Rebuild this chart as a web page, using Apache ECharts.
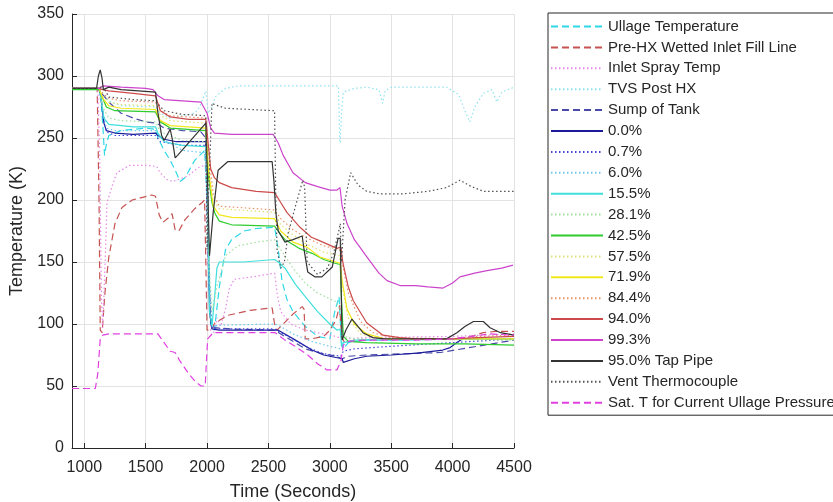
<!DOCTYPE html>
<html>
<head>
<meta charset="utf-8">
<script src="https://cdn.jsdelivr.net/npm/echarts@6/dist/echarts.min.js"></script>
<style>html,body{margin:0;padding:0;background:#fff;}#c{width:833px;height:502px;}</style>
</head>
<body>
<div id="c"></div>
<script>
// ---- data: [time (s), temperature (K)] ----
var seriesNames = ['Ullage Temperature','Pre-HX Wetted Inlet Fill Line','Inlet Spray Temp','TVS Post HX','Sump of Tank','0.0%','0.7%','6.0%','15.5%','28.1%','42.5%','57.5%','71.9%','84.4%','94.0%','99.3%','95.0% Tap Pipe','Vent Thermocouple','Sat. T for Current Ullage Pressure'];
var xTicks = [1000,1500,2000,2500,3000,3500,4000,4500];
var yTicks = [0,50,100,150,200,250,300,350];

var ullage = [[900,290],[1100,290],[1130,289],[1150,262],[1165,236],[1180,245],[1200,252],[1300,256],[1500,258],[1580,257],[1600,250],[1650,240],[1700,232],[1750,222],[1780,215],[1820,218],[1900,232],[1980,240],[2000,200],[2030,98],[2060,95],[2100,130],[2150,160],[2200,168],[2300,175],[2400,177],[2550,178],[2580,160],[2610,135],[2650,120],[2700,110],[2800,98],[2900,90],[3000,88],[3040,110],[3075,122],[3095,85],[3110,80],[3150,85],[3300,87],[3600,87],[4000,88],[4300,88],[4500,88]];
var preHX = [[900,290],[1105,290],[1120,200],[1130,95],[1145,93],[1170,127],[1200,154],[1250,181],[1307,194],[1390,200],[1550,204],[1580,203],[1610,188],[1640,182],[1690,186],[1715,189],[1740,176],[1770,175],[1820,184],[1900,193],[1960,198],[1980,200],[1990,150],[2000,95],[2030,95],[2065,101],[2170,107],[2350,111],[2530,113],[2550,100],[2570,95],[2620,100],[2700,108],[2775,114],[2790,112],[2800,88],[2850,88],[2950,90],[3000,95],[3050,103],[3080,115],[3095,90],[3120,85],[3200,87],[3600,88],[4000,88],[4150,90],[4250,93],[4350,94],[4500,94]];
var inletSpray = [[900,290],[1110,290],[1125,240],[1140,120],[1150,97],[1170,150],[1185,198],[1230,212],[1265,222],[1370,228],[1500,228],[1590,227],[1617,222],[1680,216],[1723,215],[1780,217],[1837,219],[1942,227],[1990,228],[2010,150],[2030,95],[2060,93],[2080,105],[2110,98],[2150,112],[2180,128],[2220,136],[2370,138],[2550,141],[2570,125],[2600,110],[2680,100],[2800,95],[2950,92],[3050,90],[3100,88],[3300,89],[4000,90],[4500,92]];
var tvs = [[900,290],[1120,290],[1150,286],[1200,280],[1300,276],[1580,275],[1620,270],[1700,266],[1900,270],[1940,275],[1990,288],[2010,270],[2040,275],[2065,283],[2150,290],[2250,292],[3070,292],[3080,250],[3085,246],[3095,270],[3110,287],[3200,290],[3300,291],[3400,289],[3430,278],[3450,288],[3500,291],[3950,291],[4050,285],[4100,272],[4140,263],[4180,275],[4250,286],[4320,289],[4360,279],[4400,287],[4500,291]];
var sump = [[900,290],[1120,290],[1150,285],[1210,278],[1300,270],[1400,266],[1500,263],[1590,262],[1650,258],[1800,256],[1950,255],[1990,250],[2010,150],[2030,100],[2060,97],[2200,96],[2550,95],[2600,92],[2700,86],[2800,80],[2900,77],[3050,74],[3100,72],[3150,74],[3300,75],[3600,76],[3900,77],[4200,82],[4500,87]];
var p00 = [[900,290],[1120,290],[1140,280],[1160,262],[1180,256],[1250,254],[1400,253],[1580,254],[1600,252],[1650,249],[1750,247],[1990,247],[2005,200],[2020,110],[2040,96],[2100,95],[2550,95],[2580,95],[2720,87],[2855,79],[2950,75],[3050,73],[3100,72],[3110,69],[3200,72],[3300,74],[3500,75],[3710,76.5],[3920,79],[3980,81],[4035,85],[4080,88],[4500,88]];
var p07 = [[900,290],[1120,290],[1150,270],[1180,255],[1250,252],[1580,252],[1620,247],[1800,244],[1990,244],[2010,150],[2040,97],[2100,96],[2550,96],[2600,93],[2700,88],[2800,82],[2950,76],[3090,74],[3110,78],[3200,80],[3500,82],[4000,85],[4500,88]];
var p60 = [[900,290],[1120,290],[1150,272],[1180,258],[1250,256],[1580,256],[1620,250],[1800,240],[1990,238],[2010,150],[2040,98],[2100,99],[2550,100],[2600,98],[2700,92],[2850,86],[3000,82],[3090,80],[3110,85],[3300,87],[4500,88]];
var p155 = [[900,290],[1120,290],[1140,280],[1160,266],[1200,261],[1400,259],[1580,259],[1600,254],[1650,247],[1800,244],[1990,243],[2005,200],[2020,110],[2040,98],[2060,120],[2080,145],[2100,150],[2300,150],[2550,152],[2580,150],[2635,145],[2720,132],[2800,122],[2900,110],[3000,100],[3060,95],[3085,96],[3095,82],[3110,85],[3200,87],[3600,88],[4500,88]];
var p281 = [[900,290],[1120,290],[1150,275],[1200,266],[1300,264],[1580,263],[1620,255],[1800,248],[1990,247],[2010,160],[2040,110],[2080,130],[2150,155],[2250,163],[2400,166],[2550,168],[2600,160],[2700,145],[2800,133],[2900,125],[3050,118],[3090,110],[3110,90],[3200,88],[4500,87]];
var p425 = [[900,289],[1120,289],[1150,282],[1180,275],[1250,272],[1580,271],[1620,263],[1700,258],[1990,256],[2010,220],[2040,198],[2065,189],[2100,183],[2200,180],[2550,179],[2600,172],[2635,168],[2750,161],[2855,157],[2950,152],[3040,149],[3085,148],[3095,120],[3110,90],[3150,86],[3300,85],[3700,84],[4100,84],[4500,83]];
var p575 = [[900,290],[1120,290],[1150,284],[1200,279],[1300,277],[1580,276],[1620,268],[1700,264],[1990,262],[2010,230],[2050,200],[2100,193],[2550,190],[2600,180],[2700,172],[2800,165],[2950,158],[3080,155],[3100,130],[3150,105],[3250,92],[3400,88],[4500,88]];
var p719 = [[900,290],[1120,290],[1150,282],[1200,276],[1300,274],[1580,273],[1620,264],[1700,260],[1990,258],[2010,225],[2050,195],[2100,188],[2200,186],[2550,185],[2600,175],[2700,166],[2813,162],[2920,154],[3050,150],[3085,149],[3100,135],[3140,112],[3200,100],[3300,92],[3450,88],[4500,88]];
var p844 = [[900,290],[1120,290],[1150,286],[1200,282],[1300,280],[1580,279],[1620,272],[1700,268],[1990,266],[2010,240],[2050,205],[2100,195],[2550,192],[2600,185],[2700,176],[2800,170],[2950,163],[3080,160],[3100,150],[3150,125],[3250,102],[3350,93],[3500,89],[4000,88],[4200,90],[4500,91]];
var p940 = [[900,290],[1120,290],[1150,289],[1200,288],[1400,286],[1580,284],[1620,272],[1700,267],[1850,265],[1990,265],[2010,245],[2030,225],[2060,218],[2100,214],[2200,210],[2400,207],[2550,206],[2600,198],[2650,190],[2757,178],[2850,170],[2920,167],[3058,161],[3090,162],[3107,149],[3150,130],[3190,119],[3300,101],[3433,91],[3570,89],[3700,88],[4000,88],[4200,89],[4500,90]];
var p993 = [[900,290],[1120,290],[1150,292],[1300,291],[1500,290],[1560,289],[1600,284],[1650,281],[1800,280],[1950,279],[2000,270],[2030,258],[2060,254],[2200,253],[2538,253],[2580,246],[2620,236],[2700,222],[2800,214],[2895,211],[3000,208],[3058,208],[3083,210],[3100,195],[3140,181],[3200,168],[3303,154],[3400,141],[3466,135],[3571,131],[3700,131],[3800,130],[3922,129],[4000,133],[4060,138],[4180,141],[4280,143],[4400,145],[4492,147.5]];
var tap = [[900,290],[1100,290],[1115,300],[1130,305],[1145,298],[1155,289],[1170,288],[1200,291],[1300,289],[1580,287],[1600,270],[1630,252],[1650,248],[1700,257],[1715,250],[1740,234],[1760,236],[1990,262],[2000,230],[2020,155],[2050,190],[2090,224],[2170,231],[2530,231],[2545,215],[2560,190],[2580,175],[2635,166],[2700,168],[2775,171],[2790,160],[2820,142],[2880,138],[2935,138],[3020,146],[3067,169],[3085,169],[3100,87],[3130,95],[3180,104],[3270,93],[3350,89],[3450,88],[3950,88],[4035,93],[4100,98],[4170,102],[4250,102],[4305,97],[4390,93],[4500,91]];
var vent = [[900,290],[1120,290],[1150,292],[1200,283],[1400,281],[1580,280],[1650,272],[1800,269],[1990,268],[2000,160],[2010,200],[2040,278],[2060,277],[2150,274],[2550,272],[2560,200],[2570,160],[2600,145],[2630,150],[2660,173],[2720,195],[2780,216],[2795,210],[2815,150],[2900,140],[2980,145],[3030,157],[3075,176],[3085,181],[3095,150],[3124,200],[3170,222],[3230,212],[3300,207],[3400,205],[3600,205],[3800,207],[3950,210],[4060,216],[4150,211],[4250,207],[4500,207]];
var satT = [[900,48],[1090,48],[1110,60],[1130,88],[1150,91],[1200,92],[1600,92],[1650,85],[1700,78],[1740,77],[1780,70],[1850,60],[1900,54],[1950,50],[1985,50],[1995,70],[2005,88],[2050,93],[2100,93],[2555,93],[2635,87],[2717,82],[2820,75],[2900,68],[2977,63],[3058,63],[3090,70],[3110,83],[3150,86],[3300,87],[3700,87],[4000,88],[4150,90],[4300,92],[4500,91]];

var allData = [ullage,preHX,inletSpray,tvs,sump,p00,p07,p60,p155,p281,p425,p575,p719,p844,p940,p993,tap,vent,satT];

// ---- styles ----
var DASH = [7,4], DOT = [1.5,2.5];
var styles = [
  {c:'#2fd8e6', t:DASH},
  {c:'#c65252', t:DASH},
  {c:'#e68ae6', t:DOT},
  {c:'#8fe3f0', t:DOT},
  {c:'#4a4aa8', t:DASH},
  {c:'#1c1c9a', t:'solid'},
  {c:'#4545d8', t:DOT},
  {c:'#70c8f0', t:DOT},
  {c:'#3fe0dc', t:'solid'},
  {c:'#9fe09f', t:DOT},
  {c:'#2ecc2e', t:'solid'},
  {c:'#e0e070', t:DOT},
  {c:'#f0e81a', t:'solid'},
  {c:'#e8926a', t:DOT},
  {c:'#cc4a4a', t:'solid'},
  {c:'#cc44cc', t:'solid'},
  {c:'#333333', t:'solid'},
  {c:'#505050', t:DOT},
  {c:'#e040e0', t:DASH}
];

var FONT = '"Liberation Sans", Arial, Helvetica, sans-serif';
var TXT = '#262626';

var series = seriesNames.map(function(n, i){
  return {
    name: n, type: 'line', data: allData[i], symbol: 'none', showSymbol: false,
    animation: false, silent: true,
    lineStyle: {color: styles[i].c, width: 1.2, type: styles[i].t},
    itemStyle: {color: styles[i].c}
  };
});

var chart = echarts.init(document.getElementById('c'), null, {renderer: 'canvas'});
chart.setOption({
  backgroundColor: '#ffffff',
  animation: false,
  grid: {left: 72, right: 319, top: 14, bottom: 54, containLabel: false, outerBoundsMode: 'none'},
  xAxis: {
    type: 'value', min: 900, max: 4500, splitNumber: 7,
    name: 'Time (Seconds)', nameLocation: 'middle', nameGap: 35,
    nameTextStyle: {fontFamily: FONT, fontSize: 18, color: TXT},
    axisLine: {show: true, lineStyle: {color: TXT, width: 1}},
    axisTick: {show: true, inside: true, length: 5, lineStyle: {color: TXT}},
    axisLabel: {margin: 12, fontFamily: FONT, fontSize: 16, color: TXT,
      customValues: xTicks, formatter: function(v){ return String(v); }},
    splitLine: {show: true, lineStyle: {color: '#e3e3e3', width: 1}}
  },
  yAxis: {
    type: 'value', min: 0, max: 350, interval: 50,
    name: 'Temperature (K)', nameLocation: 'middle', nameGap: 43,
    nameTextStyle: {fontFamily: FONT, fontSize: 18, color: TXT},
    axisLine: {show: true, lineStyle: {color: TXT, width: 1}},
    axisTick: {show: true, inside: true, length: 5, lineStyle: {color: TXT}},
    axisLabel: {margin: 8, fontFamily: FONT, fontSize: 16, color: TXT, customValues: yTicks,
      formatter: function(v){ return String(v); }},
    splitLine: {show: true, lineStyle: {color: '#e3e3e3', width: 1}}
  },
  legend: {
    orient: 'vertical', left: 548, top: 13,
    padding: [6, 5, 5, 2],
    itemWidth: 52, itemHeight: 14, itemGap: 5.9,
    borderColor: TXT, borderWidth: 1, backgroundColor: '#ffffff',
    selectedMode: false,
    itemStyle: {opacity: 0, borderWidth: 0},
    textStyle: {fontFamily: FONT, fontSize: 15, color: TXT, lineHeight: 14},
    data: seriesNames
  },
  series: series
});
</script>
</body>
</html>
